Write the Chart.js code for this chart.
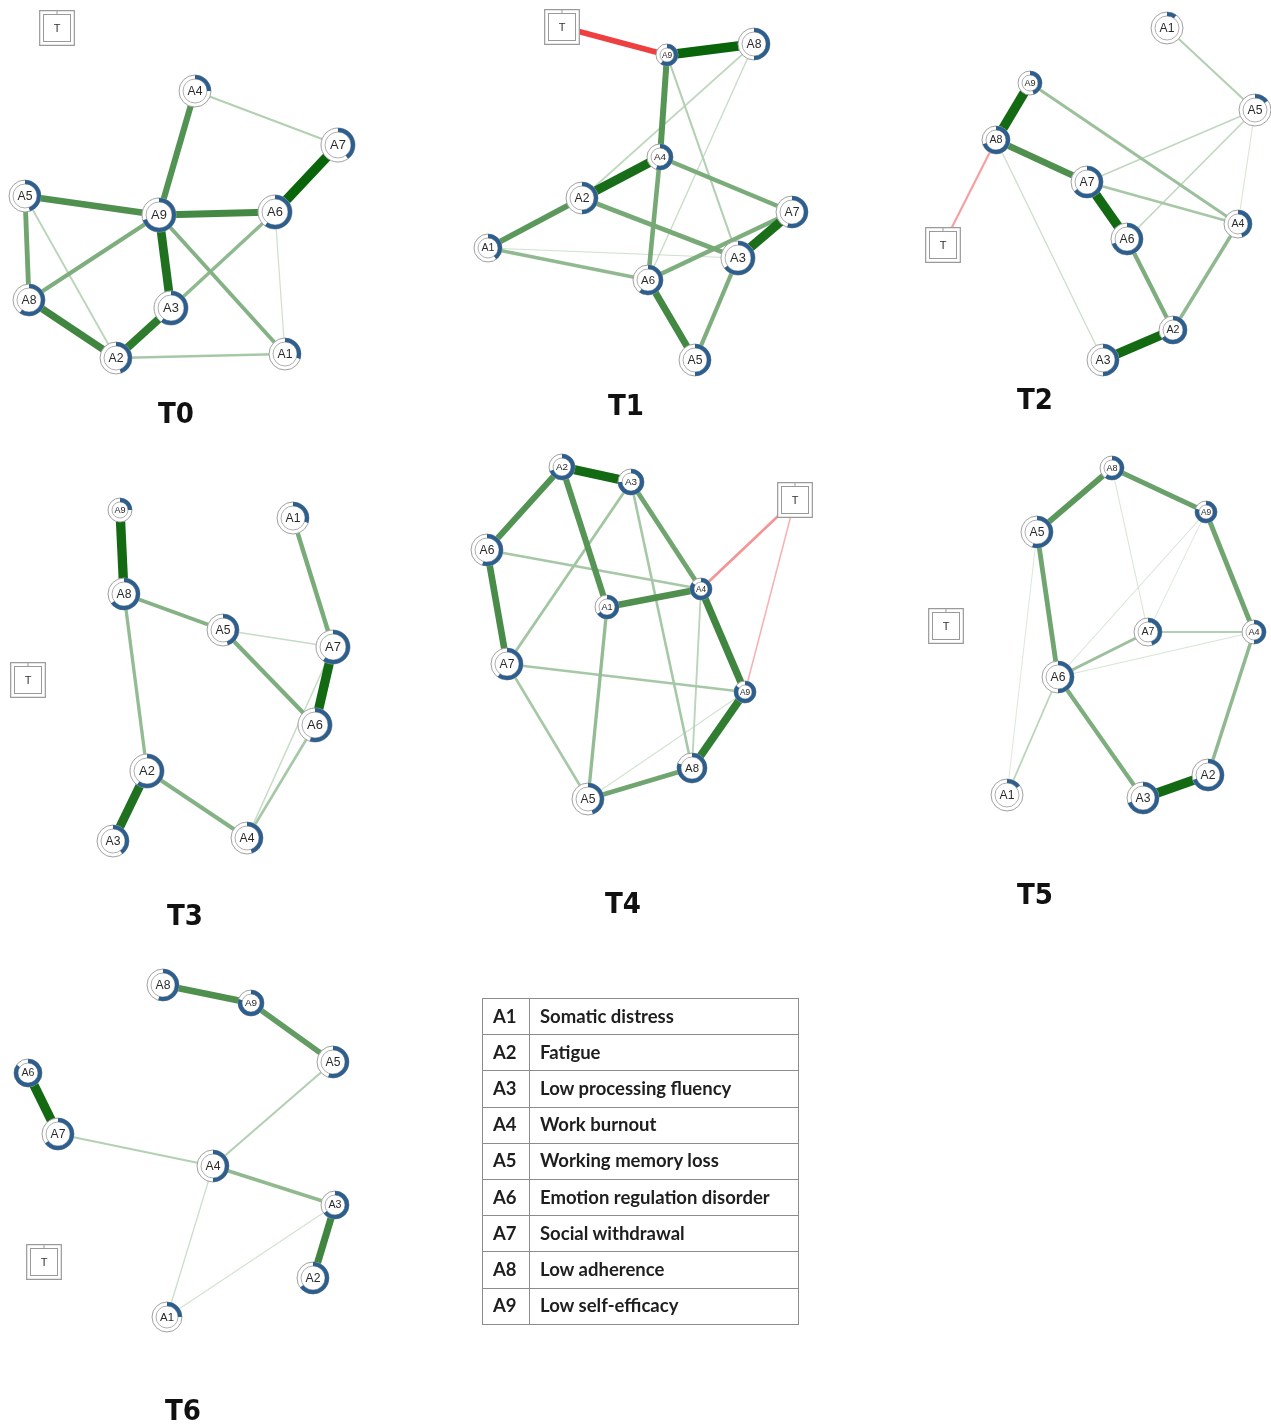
<!DOCTYPE html>
<html><head><meta charset="utf-8">
<script src="https://cdn.jsdelivr.net/npm/chart.js@4.4.1/dist/chart.umd.min.js"></script>
<style>
html,body{margin:0;padding:0;background:#fff;}
#wrap{position:relative;width:1271px;height:1426px;overflow:hidden;}
#c{position:absolute;left:0;top:0;}
#legend{position:absolute;left:482px;top:998px;width:317px;border-collapse:collapse;font-family:Lato,'Open Sans',sans-serif;font-weight:700;font-size:18.5px;color:#1e1e1e;}
#legend td{border:1.5px solid #8c8c8c;padding:0 0 2px 10px;height:33.2px;white-space:nowrap;}
#legend td.k{width:36px;}
</style></head><body>
<div id="wrap"><canvas id="c" width="1271" height="1426"></canvas><table id="legend"></table></div>
<script>
// ---------------- data ----------------
const symptomCodes = ['A1','A2','A3','A4','A5','A6','A7','A8','A9'];
const symptomNames = ['Somatic distress','Fatigue','Low processing fluency','Work burnout','Working memory loss','Emotion regulation disorder','Social withdrawal','Low adherence','Low self-efficacy'];
const panelTitles = ['T0','T1','T2','T3','T4','T5','T6'];
const titleX = [176, 626, 1035, 185, 623, 1035, 183];
const titleY = [415, 407, 401, 917, 905, 896, 1412];

// node layout (A1..A9, then T) in canvas units
const t0Layout = [[285,354],[116,358],[171,308],[195,91],[25,196],[275,212],[338,145],[29,300],[159,215],[57,28]];
const t1Layout = [[488,248],[582,198],[738,258],[660,157],[695,360],[648,280],[792,212],[754,44],[667,55],[562,27]];
const t2Layout = [[1167,28],[1173,330],[1103,360],[1238,224],[1255,110],[1127,239],[1087,182],[996,140],[1030,83],[943,245]];
const t3Layout = [[293,518],[147,771],[113,841],[247,838],[223,630],[315,725],[333,647],[124,594],[120,510],[28,680]];
const t4Layout = [[607,607],[562,467],[631,482],[701,589],[588,799],[487,550],[507,664],[692,768],[745,692],[795,500]];
const t5Layout = [[1007,795],[1208,775],[1143,798],[1254,632],[1037,532],[1058,677],[1148,632],[1112,468],[1206,512],[946,626]];
const t6Layout = [[167,1317],[313,1278],[335,1205],[213,1166],[333,1062],[28,1073],[58,1134],[163,985],[251,1003],[44,1262]];

// node predictability (share of ring filled), A1..A9
const t0Pred = [0.30,0.45,0.60,0.25,0.45,0.60,0.40,0.60,0.70];
const t1Pred = [0.40,0.50,0.65,0.55,0.50,0.60,0.55,0.50,0.60];
const t2Pred = [0.10,0.65,0.50,0.45,0.15,0.70,0.65,0.70,0.45];
const t3Pred = [0.30,0.60,0.40,0.45,0.45,0.55,0.60,0.65,0.25];
const t4Pred = [0.65,0.70,0.75,0.85,0.45,0.55,0.60,0.80,0.85];
const t5Pred = [0.15,0.70,0.70,0.50,0.55,0.50,0.45,0.60,0.80];
const t6Pred = [0.25,0.65,0.65,0.50,0.55,0.85,0.65,0.55,0.80];

// edges: [from, to, weight]  (negative = red)
const t0Edges = [['A4','A9',0.60],['A4','A7',0.15],['A7','A6',1.0],['A5','A9',0.62],['A9','A6',0.68],['A5','A8',0.45],['A5','A2',0.12],['A9','A8',0.38],['A9','A3',0.88],['A9','A1',0.35],['A6','A3',0.30],['A6','A1',0.05],['A8','A2',0.70],['A2','A3',0.80],['A2','A1',0.20]];
const t1Edges = [['T','A9',-0.55],['A9','A8',1.0],['A9','A4',0.58],['A9','A3',0.15],['A8','A2',0.10],['A8','A6',0.07],['A4','A2',0.92],['A4','A6',0.42],['A4','A7',0.40],['A2','A1',0.55],['A2','A3',0.42],['A1','A6',0.30],['A1','A3',0.05],['A7','A6',0.38],['A7','A3',0.90],['A6','A5',0.68],['A3','A5',0.38]];
const t2Edges = [['A1','A5',0.15],['A9','A8',0.95],['A9','A4',0.25],['A8','A7',0.62],['A8','T',-0.15],['A8','A3',0.06],['A7','A5',0.10],['A7','A6',0.95],['A7','A4',0.20],['A6','A5',0.10],['A5','A4',0.03],['A6','A2',0.38],['A4','A2',0.30],['A2','A3',0.95]];
const t3Edges = [['A9','A8',0.95],['A1','A7',0.40],['A8','A5',0.35],['A8','A2',0.28],['A5','A7',0.08],['A5','A6',0.38],['A7','A6',0.95],['A7','A4',0.08],['A6','A4',0.20],['A2','A3',0.88],['A2','A4',0.35]];
const t4Edges = [['A2','A3',0.95],['A2','A6',0.60],['A2','A1',0.58],['A3','A7',0.22],['A3','A4',0.45],['A3','A8',0.20],['T','A4',-0.20],['T','A9',-0.08],['A6','A4',0.20],['A6','A7',0.65],['A1','A4',0.62],['A1','A5',0.28],['A4','A9',0.70],['A4','A8',0.12],['A7','A9',0.20],['A7','A5',0.20],['A9','A8',0.78],['A9','A5',0.04],['A5','A8',0.45]];
const t5Edges = [['A8','A5',0.55],['A8','A9',0.48],['A8','A7',0.03],['A9','A4',0.45],['A9','A6',0.03],['A9','A7',0.02],['A5','A6',0.45],['A5','A1',0.02],['A7','A4',0.15],['A7','A6',0.25],['A6','A4',0.03],['A6','A1',0.12],['A6','A3',0.38],['A4','A2',0.30],['A3','A2',0.95]];
const t6Edges = [['A8','A9',0.62],['A9','A5',0.52],['A6','A7',0.95],['A7','A4',0.15],['A5','A4',0.15],['A4','A3',0.30],['A4','A1',0.06],['A3','A1',0.04],['A3','A2',0.70]];

// ---------------- styling (not data) ----------------
const nodeRadius = [
  [16,16,17,16,16,17,17,16,17],
  [14,16,17,13,16,15,16,16,11],
  [16,14,16,14,16,16,16,14,12],
  [16,17,16,16,16,17,17,16,12],
  [12,13,13,11,16,16,16,15,11],
  [16,16,16,12,16,16,14,12,11],
  [15,16,14,16,16,14,16,16,13]
];
const layouts = [t0Layout,t1Layout,t2Layout,t3Layout,t4Layout,t5Layout,t6Layout];
const preds = [t0Pred,t1Pred,t2Pred,t3Pred,t4Pred,t5Pred,t6Pred];
const edgeSets = [t0Edges,t1Edges,t2Edges,t3Edges,t4Edges,t5Edges,t6Edges];

function lerp(a,b,t){return Math.round(a+(b-a)*t);}
function edgeColor(w){
  const a=Math.abs(w);
  if(w<0){const t=Math.min(1,a/0.55);return `rgb(${lerp(248,238,t)},${lerp(196,64,t)},${lerp(196,64,t)})`;}
  const t=Math.pow(Math.min(1,a),0.8);
  return `rgb(${lerp(226,10,t)},${lerp(238,100,t)},${lerp(226,10,t)})`;
}
function edgeWidth(w){return 0.8+9*Math.abs(w);}
function idx(code){return code==='T'?9:symptomCodes.indexOf(code);}

const datasets=[];
edgeSets.forEach((edges,p)=>{
  const L=layouts[p];
  edges.forEach(e=>{
    const a=L[idx(e[0])], b=L[idx(e[1])];
    datasets.push({type:'scatter',kind:'edge',showLine:true,
      data:[{x:a[0],y:a[1]},{x:b[0],y:b[1]}],
      borderColor:edgeColor(e[2]),borderWidth:edgeWidth(e[2]),borderCapStyle:'butt',
      pointRadius:0,pointHoverRadius:0,order:2-Math.abs(e[2])});
  });
});
layouts.forEach((L,p)=>{
  datasets.push({type:'scatter',kind:'nodes',panel:p,
    data:symptomCodes.map((c,i)=>({x:L[i][0],y:L[i][1]})),
    pointRadius:nodeRadius[p],pointHoverRadius:nodeRadius[p],
    pointBackgroundColor:'#ffffff',pointBorderColor:'#a0a0a0',pointBorderWidth:1,order:0});
  datasets.push({type:'scatter',kind:'tbox',panel:p,
    data:[{x:L[9][0],y:L[9][1]}],
    pointStyle:'rect',pointRadius:24.5,pointHoverRadius:24.5,
    pointBackgroundColor:'#ffffff',pointBorderColor:'#9a9a9a',pointBorderWidth:1.2,order:0});
});

const netPlugin={
  id:'net',
  afterDatasetsDraw(chart){
    const ctx=chart.ctx;
    chart.data.datasets.forEach((ds,i)=>{
      const meta=chart.getDatasetMeta(i);
      if(ds.kind==='nodes'){
        meta.data.forEach((pt,j)=>{
          const r=nodeRadius[ds.panel][j];
          const x=pt.x,y=pt.y;
          ctx.save();
          ctx.strokeStyle='#b0b0b0';ctx.lineWidth=1;
          ctx.beginPath();ctx.arc(x,y,r-4,0,Math.PI*2);ctx.stroke();
          const f=preds[ds.panel][j];
          ctx.strokeStyle='#2d5f8e';ctx.lineWidth=4;
          ctx.beginPath();ctx.arc(x,y,r-2,-Math.PI/2,-Math.PI/2+f*Math.PI*2);ctx.stroke();
          const fs=Math.max(7.5,r*0.76);
          ctx.fillStyle='#2a2a2a';ctx.font=`${fs}px "Liberation Sans", Arial, sans-serif`;
          ctx.textAlign='center';ctx.textBaseline='middle';
          ctx.fillText(symptomCodes[j],x,y+0.5);
          ctx.restore();
        });
      } else if(ds.kind==='tbox'){
        const pt=meta.data[0];
        ctx.save();
        ctx.strokeStyle='#9a9a9a';ctx.lineWidth=1;
        ctx.strokeRect(pt.x-13.5,pt.y-13.5,27,27);
        ctx.beginPath();ctx.moveTo(pt.x,pt.y-17);ctx.lineTo(pt.x,pt.y-13.5);ctx.stroke();
        ctx.fillStyle='#333';ctx.font='11px "Liberation Sans", Arial, sans-serif';
        ctx.textAlign='center';ctx.textBaseline='middle';
        ctx.fillText('T',pt.x,pt.y+0.5);
        ctx.restore();
      }
    });
    const sx=chart.scales.x, sy=chart.scales.y;
    ctx.save();
    ctx.fillStyle='#111';ctx.font='bold 29px "DejaVu Sans Condensed","Liberation Sans Narrow",sans-serif';
    ctx.textAlign='center';ctx.textBaseline='middle';
    panelTitles.forEach((t,k)=>ctx.fillText(t,sx.getPixelForValue(titleX[k]),sy.getPixelForValue(titleY[k])));
    ctx.restore();
  }
};

new Chart(document.getElementById('c'),{
  type:'scatter',
  data:{datasets},
  options:{
    responsive:false,animation:false,devicePixelRatio:1,
    layout:{padding:0,autoPadding:false},
    events:[],
    plugins:{legend:{display:false},tooltip:{enabled:false}},
    scales:{
      x:{type:'linear',min:0,max:1271,display:false},
      y:{type:'linear',min:0,max:1426,reverse:true,display:false}
    }
  },
  plugins:[netPlugin]
});

// legend table built from the data arrays
const tbl=document.getElementById('legend');
symptomCodes.forEach((c,i)=>{
  const tr=document.createElement('tr');
  const a=document.createElement('td');a.className='k';a.textContent=c;
  const b=document.createElement('td');b.textContent=symptomNames[i];
  tr.appendChild(a);tr.appendChild(b);tbl.appendChild(tr);
});
</script>
</body></html>
